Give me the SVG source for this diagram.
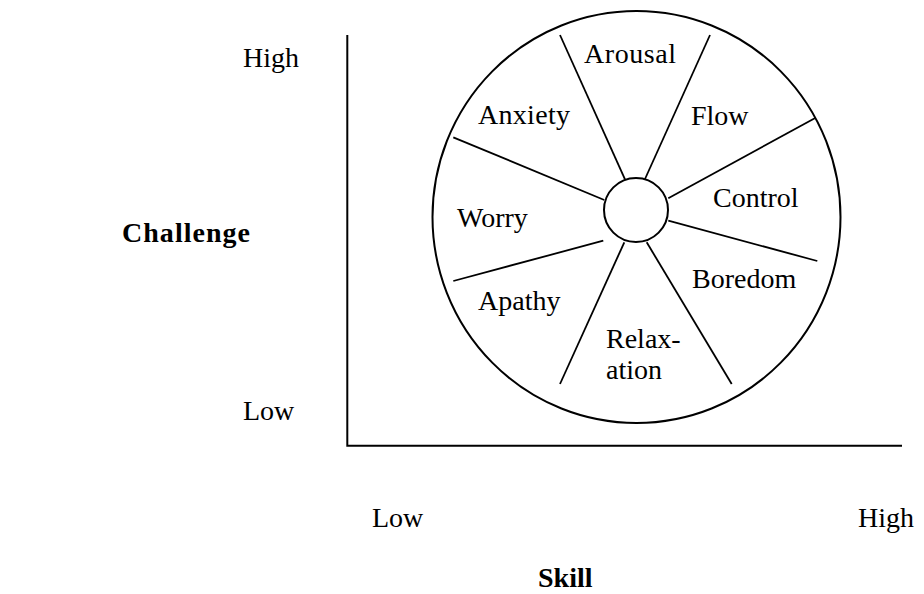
<svg xmlns="http://www.w3.org/2000/svg" width="924" height="594" viewBox="0 0 924 594">
<style>
.t{font-family:'Liberation Serif','Times New Roman',Times,'DejaVu Serif',serif;font-size:28px;fill:#000}
.b{font-weight:bold}
.s{stroke:#000;stroke-width:2;fill:none}
.sp{stroke:#000;stroke-width:1.8;fill:none}
</style>
<rect width="924" height="594" fill="#fff"/>
<g id="axes">
<polyline class="s" points="347.3,35 347.3,445.7 902,445.7"/>
</g>
<g id="wheel">
<ellipse class="s" cx="636.5" cy="217" rx="204" ry="206"/>
<circle class="s" cx="636" cy="210" r="32"/>
</g>
<g id="connectors">
<line class="sp" x1="560" y1="35" x2="625" y2="179.3"/>
<line class="sp" x1="710" y1="35" x2="645" y2="179"/>
<line class="sp" x1="815.7" y1="117.7" x2="668.3" y2="198.3"/>
<line class="sp" x1="453.3" y1="137.3" x2="604.3" y2="200"/>
<line class="sp" x1="668.3" y1="220.7" x2="817.3" y2="261"/>
<line class="sp" x1="603.3" y1="240.7" x2="453.3" y2="281"/>
<line class="sp" x1="624.3" y1="242.3" x2="560" y2="384"/>
<line class="sp" x1="646.7" y1="242.3" x2="731.7" y2="384"/>
</g>
<g id="labels">
<text class="t" x="584" y="63" textLength="92" lengthAdjust="spacing">Arousal</text>
<text class="t" x="478" y="124" textLength="92" lengthAdjust="spacing">Anxiety</text>
<text class="t" x="691" y="125">Flow</text>
<text class="t" x="713" y="207">Control</text>
<text class="t" x="457" y="227">Worry</text>
<text class="t" x="692" y="288">Boredom</text>
<text class="t" x="478" y="310">Apathy</text>
<text class="t" x="606" y="348">Relax-</text>
<text class="t" x="606" y="379">ation</text>
</g>
<g id="axis-labels">
<text class="t" x="243" y="67">High</text>
<text class="t b" x="122" y="242" textLength="128" lengthAdjust="spacing">Challenge</text>
<text class="t" x="243" y="420">Low</text>
<text class="t" x="372" y="527">Low</text>
<text class="t" x="858" y="527">High</text>
<text class="t b" x="538" y="587">Skill</text>
</g>
</svg>
